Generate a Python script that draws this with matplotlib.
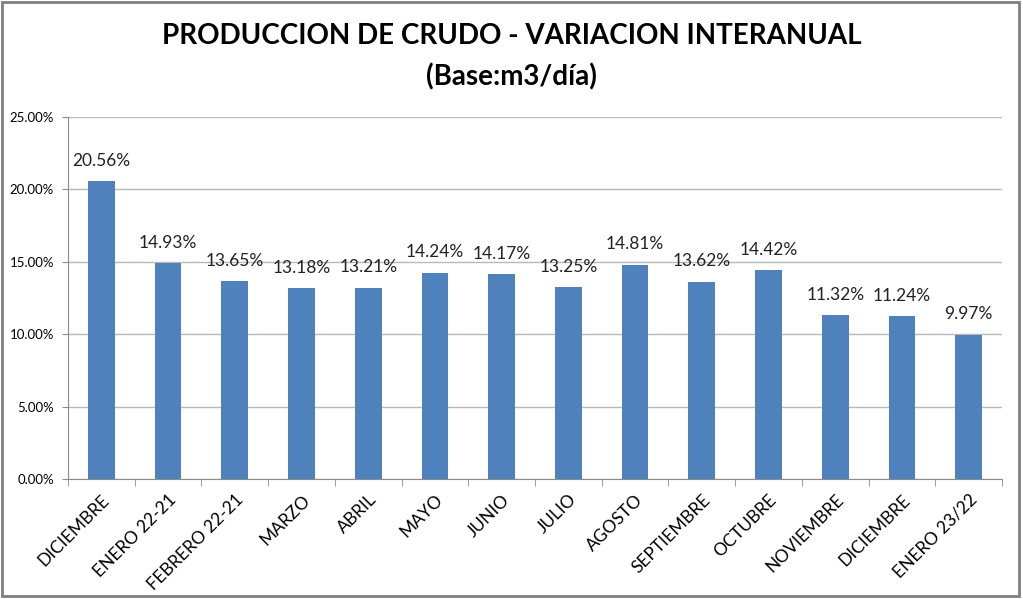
import matplotlib.pyplot as plt
import numpy as np
from matplotlib.patches import Rectangle
from matplotlib.ticker import FixedLocator, FuncFormatter

categories = [
    "DICIEMBRE", "ENERO 22-21", "FEBRERO 22-21", "MARZO", "ABRIL", "MAYO",
    "JUNIO", "JULIO", "AGOSTO", "SEPTIEMBRE", "OCTUBRE", "NOVIEMBRE",
    "DICIEMBRE", "ENERO 23/22",
]
values = [20.56, 14.93, 13.65, 13.18, 13.21, 14.24, 14.17, 13.25, 14.81,
          13.62, 14.42, 11.32, 11.24, 9.97]
y_ticks = [0, 5, 10, 15, 20, 25]

plt.rcParams["font.family"] = ["Lato", "DejaVu Sans"]

fig = plt.figure(figsize=(10.23, 5.99), dpi=100)
ax = fig.add_axes([0.0665, 0.2003, 0.913, 0.6044])

x = np.arange(len(categories))
bars = ax.bar(x, values, width=0.4, color="#4F81BD", zorder=3)

for b, v in zip(bars, values):
    ax.text(
        b.get_x() + b.get_width() / 2,
        v + 0.85,
        f"{v:.2f}%",
        ha="center",
        va="bottom",
        fontsize=12.5,
        color="#222222",
    )

ax.set_xlim(-0.5, len(categories) - 0.5)
ax.set_ylim(0, 25)
ax.set_yticks(y_ticks)
ax.yaxis.set_major_formatter(FuncFormatter(lambda v, p: f"{v:.2f}%"))
ax.grid(axis="y", color="#B8B8B8", linewidth=1, zorder=0)

ax.set_xticks(x)
ax.set_xticklabels(categories, rotation=45, ha="right", rotation_mode="anchor",
                   fontsize=12.5)
ax.xaxis.set_minor_locator(FixedLocator(np.arange(-0.5, len(categories), 1)))
ax.tick_params(axis="x", which="major", length=0, pad=9)
ax.tick_params(axis="x", which="minor", length=5, color="#8C8C8C")
ax.tick_params(axis="y", length=4, color="#8C8C8C", labelsize=9.5, pad=6)

for s in ["top", "right"]:
    ax.spines[s].set_visible(False)
for s in ["left", "bottom"]:
    ax.spines[s].set_color("#8C8C8C")

fig.text(0.5, 0.94, "PRODUCCION DE CRUDO - VARIACION INTERANUAL",
         ha="center", va="center", fontsize=20, fontweight="bold")
fig.text(0.5, 0.872, "(Base:m3/día)",
         ha="center", va="center", fontsize=20, fontweight="bold")

# outer frame
fig.patches.append(Rectangle((0.002, 0.005), 0.994, 0.992, transform=fig.transFigure,
                             fill=False, edgecolor="#7F7F7F", linewidth=2))

fig.savefig("out.png", dpi=100)
